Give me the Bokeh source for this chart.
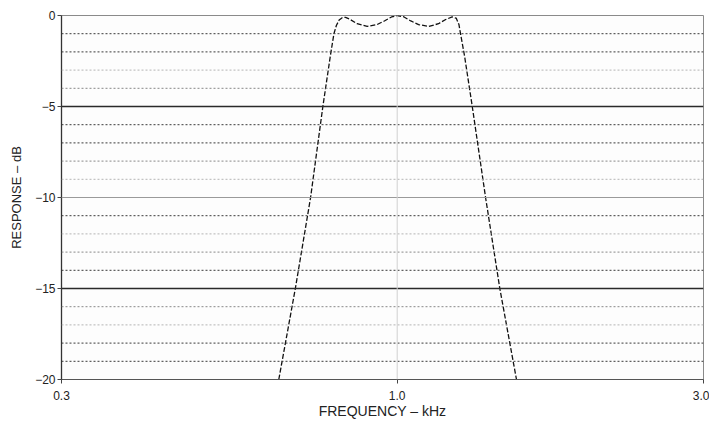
from bokeh.plotting import figure
from bokeh.models import FixedTicker, Span
from bokeh.embed import file_html
from bokeh.resources import INLINE

# ---- data ----
freq_khz = [0.654, 0.694, 0.733, 0.766, 0.787, 0.797, 0.804, 0.812, 0.821, 0.831,
            0.845, 0.866, 0.898, 0.93, 0.955, 0.98, 1.0, 1.025, 1.05, 1.08, 1.12,
            1.16, 1.19, 1.218, 1.236, 1.248, 1.255, 1.273, 1.309, 1.373, 1.445, 1.534]
response_db = [-20.0, -15.0, -10.0, -5.0, -2.2, -1.0, -0.55, -0.25, -0.12, -0.1,
               -0.22, -0.45, -0.6, -0.5, -0.3, -0.08, 0.0, -0.08, -0.3, -0.5, -0.6,
               -0.45, -0.22, -0.08, -0.15, -0.5, -1.0, -2.2, -5.0, -10.0, -15.0, -20.0]

x_ticks = [0.3, 1.0, 3.0]
x_tick_labels = ["0.3", "1.0", "3.0"]
y_ticks = [0, -5, -10, -15, -20]
y_tick_labels = ["0", "\u22125", "\u221210", "\u221215", "\u221220"]

major_grid_db = [-5, -15]
mid_grid_db = [-10]
dark_minor_db = [-1, -2, -6, -7, -11, -14, -18, -19]
medium_minor_db = [-4, -8, -13, -16]
light_minor_db = [-3, -9, -12, -17]
center_khz = [1.0]

FONT = "Liberation Sans"

p = figure(x_axis_type="log", x_range=(0.3, 3.0), y_range=(-20, 0),
           width=709, height=422,
           min_border_left=61, min_border_right=6, min_border_top=15, min_border_bottom=43,
           output_backend="svg", toolbar_location=None)
p.background_fill_color = "#fdfdfd"
p.border_fill_color = "white"
p.outline_line_color = "#8a8a8a"
p.outline_line_width = 1
p.xgrid.visible = False
p.ygrid.visible = False

# grid lines
for vals, col, dash, w in [(light_minor_db, "#b4b4b4", "2 2", 1),
                           (medium_minor_db, "#888888", "2 2", 1),
                           (dark_minor_db, "#3a3a3a", "2 2", 1)]:
    for v in vals:
        p.add_layout(Span(location=v, dimension="width", line_color=col,
                          line_dash=dash, line_width=w))
for v in mid_grid_db:
    p.add_layout(Span(location=v, dimension="width", line_color="#9a9a9a", line_width=1))
for v in major_grid_db:
    p.add_layout(Span(location=v, dimension="width", line_color="#2a2a2a", line_width=1.3))
for v in center_khz:
    p.add_layout(Span(location=v, dimension="height", line_color="#d0d0d0", line_width=1))

p.line(freq_khz, response_db, line_color="#111111", line_width=1.3, line_dash="5 2")

# axes
xa = p.xaxis[0]
xa.ticker = FixedTicker(ticks=x_ticks, minor_ticks=[])
xa.major_label_overrides = {t: l for t, l in zip(x_ticks, x_tick_labels)}
xa.axis_label = "FREQUENCY \u2013 kHz"
ya = p.yaxis[0]
ya.ticker = FixedTicker(ticks=y_ticks, minor_ticks=[])
ya.major_label_overrides = {t: l for t, l in zip(y_ticks, y_tick_labels)}
ya.axis_label = "RESPONSE \u2013 dB"

for ax in (xa, ya):
    ax.axis_label_text_font = FONT
    ax.axis_label_text_font_style = "normal"
    ax.axis_label_text_font_size = "13px"
    ax.axis_label_text_color = "#222222"
    ax.major_label_text_font = FONT
    ax.major_label_text_font_size = "12px"
    ax.major_label_text_color = "#222222"
    ax.major_tick_out = 4
    ax.major_tick_in = 0
    ax.minor_tick_out = 0
    ax.minor_tick_in = 0
    ax.major_tick_line_color = "#444444"

xa.axis_label_text_font_size = "14px"
xa.axis_line_color = "#555555"
xa.major_label_standoff = 7
xa.axis_label_standoff = 0
ya.axis_line_color = "#333333"
ya.axis_line_width = 1.3
ya.major_label_standoff = 2
ya.axis_label_standoff = 8

open("out.html", "w").write(file_html(p, INLINE))
